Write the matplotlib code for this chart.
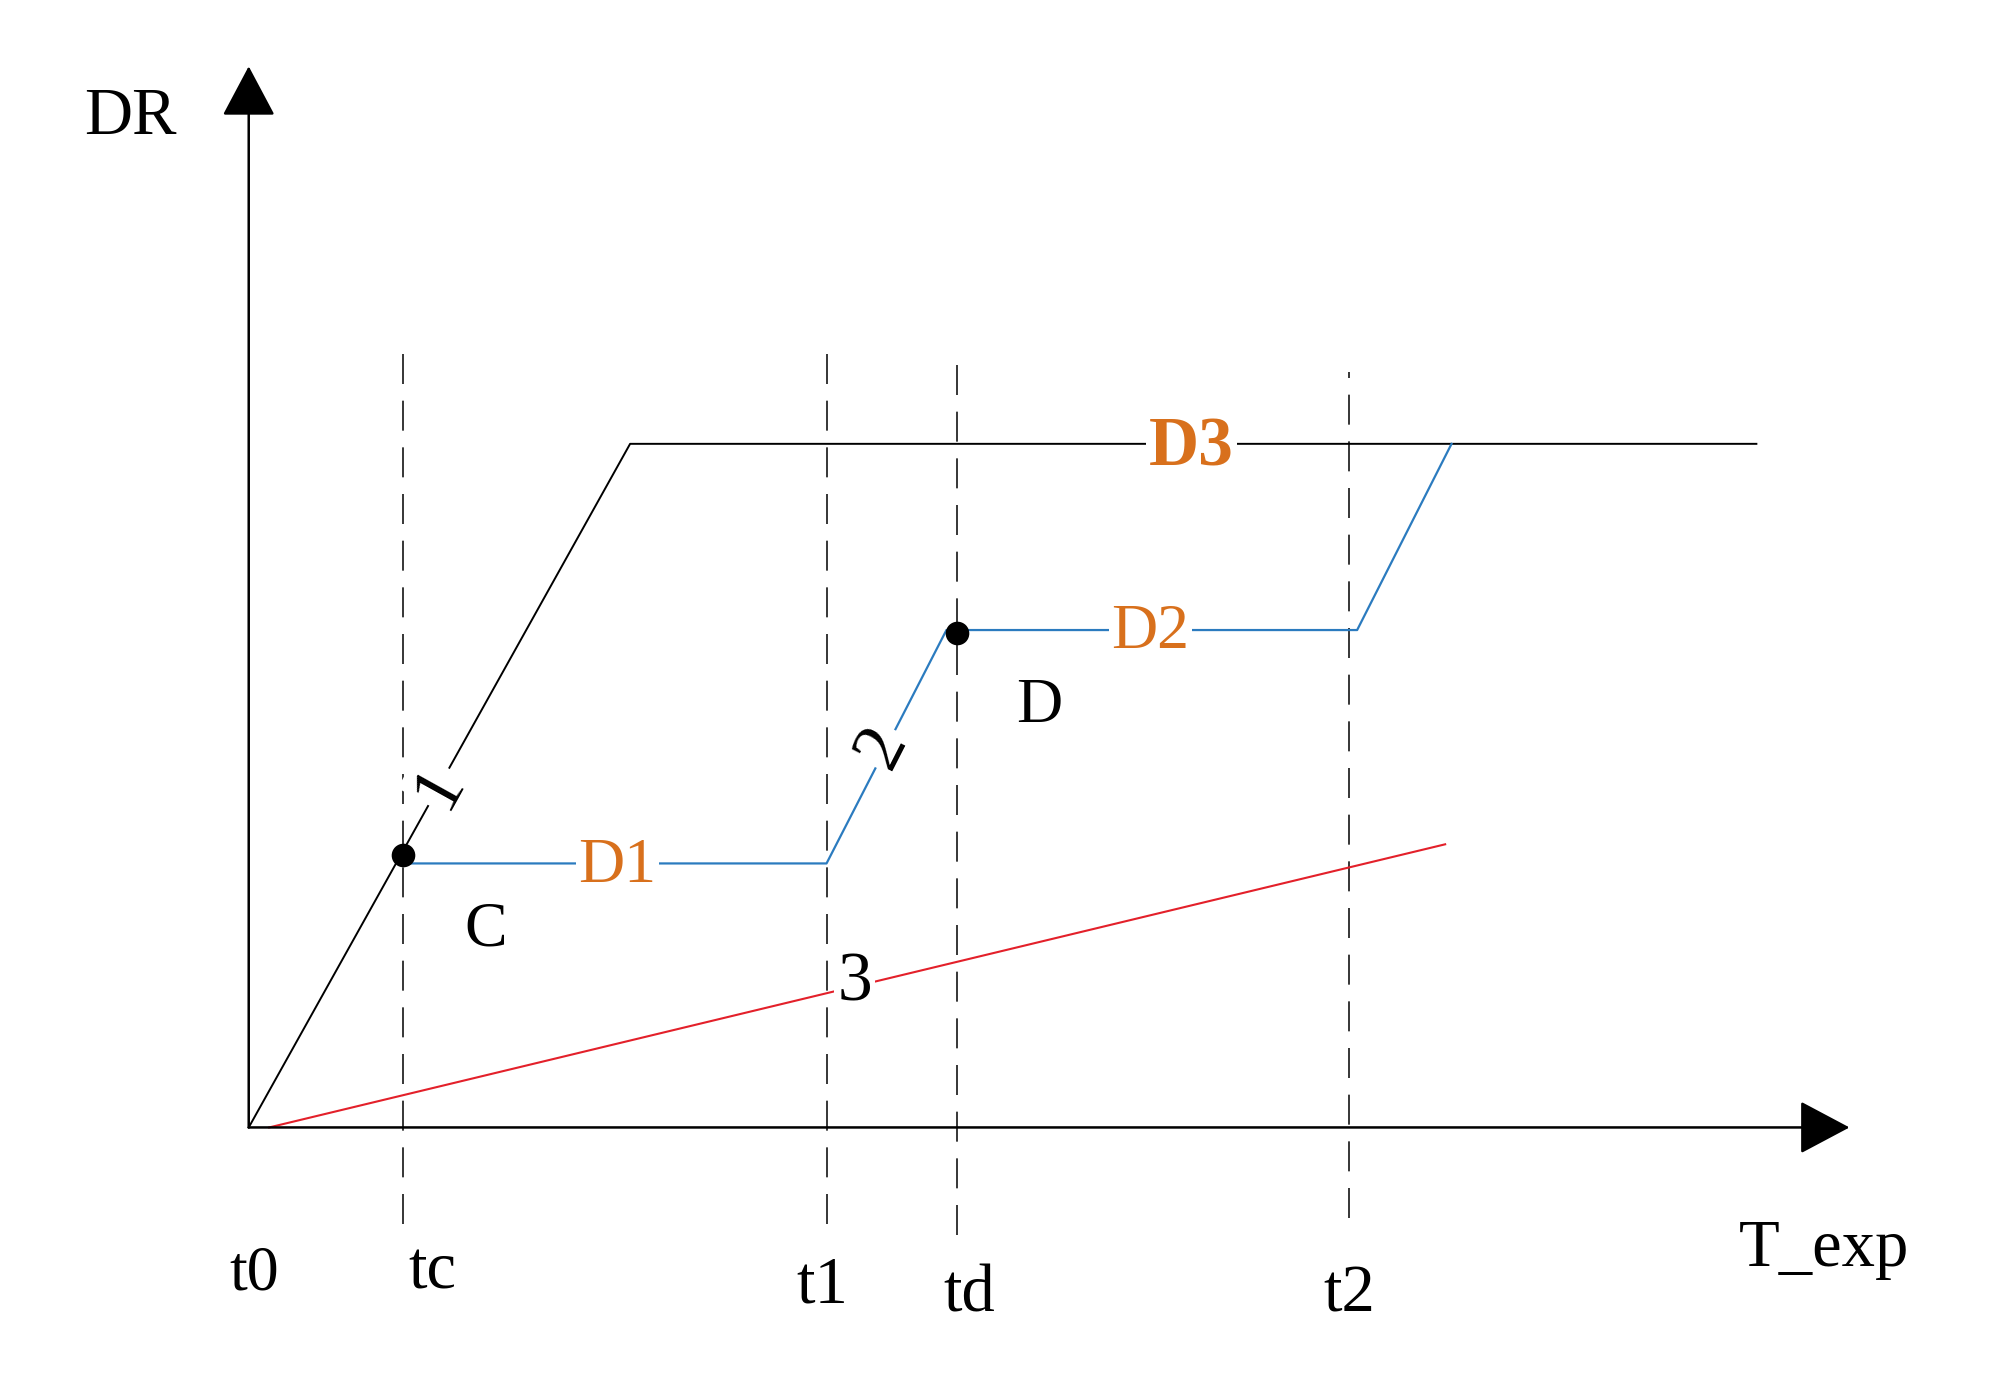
import matplotlib.pyplot as plt

# data (time units; origin at t0)
t_marks = [12.1, 45.3, 55.5, 86.3]            # tc, t1, td, t2
t_names = ["tc", "t1", "td", "t2"]
dash_top = [61.2, 61.2, 60.1, 59.2]
dash_bot = [-7.6, -7.6, -8.4, -7.1]

line1_x = [0, 29.9, 118.2]                    # curve 1 (black) -> D3
line1_y = [0, 53.6, 53.6]
line2_x = [12.1, 45.3, 54.7, 86.9, 94.3]      # curve 2 (blue) D1 -> D2 -> D3
line2_y = [20.7, 20.7, 39.0, 39.0, 53.6]
line3_x = [1.6, 93.8]                         # curve 3 (red)
line3_y = [0, 22.2]

pts_x = [12.1, 55.5]                          # points C and D
pts_y = [21.4, 38.8]

plt.rcParams["font.family"] = ["Liberation Serif", "DejaVu Serif"]

fig = plt.figure(figsize=(10, 6.97), dpi=200)
ax = fig.add_axes([0, 0, 1, 1])
ax.set_xlim(-19.5, 137.3)
ax.set_ylim(-20.9, 88.4)
ax.axis("off")

# axes with arrows
arrow = dict(arrowstyle="-|>,head_length=1.6,head_width=0.85", color="black",
             lw=0.9, mutation_scale=10, shrinkA=0, shrinkB=0)
ax.annotate("", xy=(0, 83.2), xytext=(0, 0), arrowprops=arrow)
ax.annotate("", xy=(125.5, 0), xytext=(0, 0), arrowprops=arrow)

# dashed verticals
lw_d = 0.55
for x, top, bot in zip(t_marks, dash_top, dash_bot):
    ax.plot([x, x], [bot, top], color="black", lw=lw_d,
            dashes=(10.8 / lw_d, 6.0 / lw_d))

ax.plot(line1_x, line1_y, color="black", lw=0.7)
ax.plot(line2_x, line2_y, color="#2b7bbf", lw=0.8)
ax.plot(line3_x, line3_y, color="#e3202a", lw=0.75)
ax.plot(pts_x, pts_y, "o", color="black", ms=7.5, zorder=5)

white = dict(facecolor="white", edgecolor="none", pad=1)
orange = "#d8701c"

ax.text(-9.3, 77.9, "DR", fontsize=24, ha="center", va="baseline")
ax.text(123.5, -10.9, "T_exp", fontsize=24, ha="center", va="baseline")
ax.text(0.4, -12.7, "t0", fontsize=23, ha="center", va="baseline")
label_x = [14.4, 45.0, 56.5, 86.3]
label_y = [-12.6, -13.7, -14.4, -14.4]
for name, x, y in zip(t_names, label_x, label_y):
    ax.text(x, y, name, fontsize=24, ha="center", va="baseline")

ax.text(73.9, 51.9, "D3", fontsize=25, color=orange, fontweight="bold",
        ha="center", va="baseline", bbox=white, zorder=4)
ax.text(70.7, 37.6, "D2", fontsize=23, color=orange,
        ha="center", va="baseline", bbox=white, zorder=4)
ax.text(28.9, 19.25, "D1", fontsize=23, color=orange,
        ha="center", va="baseline", bbox=white, zorder=4)
ax.text(62.0, 31.8, "D", fontsize=23, ha="center", va="baseline")
ax.text(18.6, 14.3, "C", fontsize=23, ha="center", va="baseline")

ax.text(14.9, 26.7, "1", fontsize=26, rotation=61, rotation_mode="anchor",
        ha="center", va="center", bbox=white, zorder=4)
ax.text(49.7, 29.8, "2", fontsize=26, rotation=63, rotation_mode="anchor",
        ha="center", va="center", bbox=white, zorder=4)
ax.text(47.5, 11.3, "3", fontsize=25, ha="center", va="center",
        bbox=white, zorder=4)

fig.savefig("out.png", dpi=200)
